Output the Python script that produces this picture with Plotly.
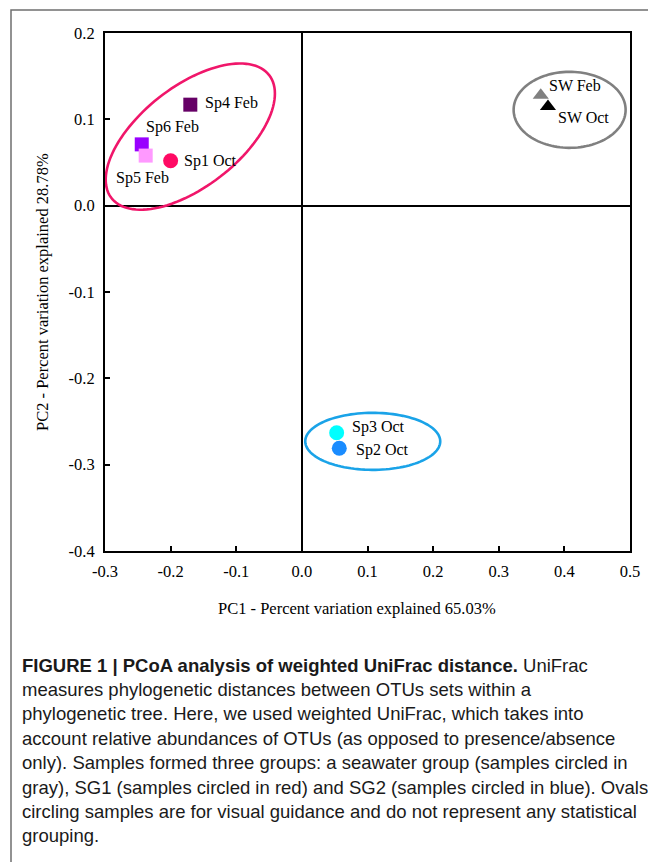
import numpy as np
import plotly.graph_objects as go

# ---------------- data ----------------
names = ["Sp4 Feb", "Sp6 Feb", "Sp5 Feb", "Sp1 Oct", "SW Feb", "SW Oct", "Sp3 Oct", "Sp2 Oct"]
pc1 = [-0.170, -0.244, -0.238, -0.200, 0.364, 0.375, 0.053, 0.057]
pc2 = [0.117, 0.071, 0.058, 0.052, 0.128, 0.115, -0.263, -0.281]
symbols = ["square", "square", "square", "circle", "triangle-up", "triangle-up", "circle", "circle"]
colors = ["#660066", "#9900ff", "#ff99ff", "#ff0a64", "#808080", "#000000", "#00ffff", "#1a8cff"]
sizes = [14, 14, 14, 15, 14, 14, 15, 15]

# label offsets (pixels) and anchors
lab_dx = [13, 31, -3, 11, 6, 8, 13, 15]
lab_dy = [2, 17, -22, 0, 10, -11, 6, -2]
lab_anchor = ["left", "center", "center", "left", "left", "left", "left", "left"]

# group ovals (centre in data units, semi-axes in px, rotation deg)
oval_cx = [-0.170, 0.408, 0.108]
oval_cy = [0.0800, 0.111, -0.273]
oval_a = [100, 56, 67.5]
oval_b = [50, 38, 28.5]
oval_rot = [38, 0, 0]
oval_color = ["#f0166a", "#808080", "#1aa3e8"]

x_ticks = [-0.3, -0.2, -0.1, 0.0, 0.1, 0.2, 0.3, 0.4, 0.5]
x_ticktext = ["-0.3", "-0.2", "-0.1", "0.0", "0.1", "0.2", "0.3", "0.4", "0.5"]
y_ticks = [-0.4, -0.3, -0.2, -0.1, 0.0, 0.1, 0.2]
y_ticktext = ["-0.4", "-0.3", "-0.2", "-0.1", "0.0", "0.1", "0.2"]

x_title = "PC1 - Percent variation explained 65.03%"
y_title = "PC2 - Percent variation explained 28.78%"

caption_lines = [
    "<b>FIGURE 1 | PCoA analysis of weighted UniFrac distance.</b> UniFrac",
    "measures phylogenetic distances between OTUs sets within a",
    "phylogenetic tree. Here, we used weighted UniFrac, which takes into",
    "account relative abundances of OTUs (as opposed to presence/absence",
    "only). Samples formed three groups: a seawater group (samples circled in",
    "gray), SG1 (samples circled in red) and SG2 (samples circled in blue). Ovals",
    "circling samples are for visual guidance and do not represent any statistical",
    "grouping.",
]

# ---------------- layout geometry ----------------
W, H = 656, 862
OFF = 8  # page body margin
ML, MT = 105 - OFF, 33 - OFF
MR = W - (630 - OFF)
MB = H - (551 - OFF)
XR = [-0.3, 0.5]
YR = [-0.4, 0.2]
pw = W - ML - MR
ph = H - MT - MB
sx = pw / (XR[1] - XR[0])
sy = ph / (YR[1] - YR[0])


def px_to_paper_x(px):
    return (px - OFF - ML) / pw


def px_to_paper_y(py):
    return (H - MB - (py - OFF)) / ph


SERIF = "Liberation Serif, Times New Roman, serif"
SANS = "Liberation Sans, Arial, sans-serif"

fig = go.Figure()

shapes = []
t = np.linspace(0, 2 * np.pi, 120)
for cx, cy, a, b, r, c in zip(oval_cx, oval_cy, oval_a, oval_b, oval_rot, oval_color):
    th = np.deg2rad(r)
    dx = a * np.cos(t) * np.cos(th) - b * np.sin(t) * np.sin(th)
    dy = a * np.cos(t) * np.sin(th) + b * np.sin(t) * np.cos(th)
    xs = cx + dx / sx
    ys = cy + dy / sy
    path = "M " + " L ".join(f"{x:.5f},{y:.5f}" for x, y in zip(xs, ys)) + " Z"
    shapes.append(dict(type="path", path=path, xref="x", yref="y",
                       line=dict(color=c, width=2.6), layer="above"))

# outer frame (left/top visible)
shapes.append(dict(type="rect", xref="paper", yref="paper",
                   x0=px_to_paper_x(11), x1=px_to_paper_x(720),
                   y0=px_to_paper_y(920), y1=px_to_paper_y(10),
                   line=dict(color="#6f6f6f", width=1.5), layer="below"))

for i in range(len(names)):
    fig.add_trace(go.Scatter(
        x=[pc1[i]], y=[pc2[i]], mode="markers", name=names[i],
        marker=dict(symbol=symbols[i], size=sizes[i], color=colors[i],
                    line=dict(width=0)),
        showlegend=False, cliponaxis=False))

annotations = []
for i in range(len(names)):
    annotations.append(dict(x=pc1[i], y=pc2[i], xref="x", yref="y", text=names[i],
                            showarrow=False, xanchor=lab_anchor[i], yanchor="middle",
                            xshift=lab_dx[i], yshift=lab_dy[i],
                            font=dict(family=SERIF, size=16, color="#000")))

annotations.append(dict(x=px_to_paper_x(357), y=px_to_paper_y(608), xref="paper", yref="paper",
                        text=x_title, showarrow=False, xanchor="center", yanchor="middle",
                        font=dict(family=SERIF, size=16.5, color="#000")))
annotations.append(dict(x=px_to_paper_x(42), y=px_to_paper_y(292), xref="paper", yref="paper",
                        text=y_title, showarrow=False, xanchor="center", yanchor="middle",
                        textangle=-90, font=dict(family=SERIF, size=16.5, color="#000")))

cap_y0 = 665
cap_dy = 24.4
for k, line in enumerate(caption_lines):
    annotations.append(dict(x=px_to_paper_x(20), y=px_to_paper_y(cap_y0 + k * cap_dy),
                            xref="paper", yref="paper", text=line, showarrow=False,
                            xanchor="left", yanchor="middle",
                            font=dict(family=SANS, size=18.5, color="#1a1a1a")))

axis_common = dict(showline=True, linecolor="black", linewidth=2, mirror=True,
                   zeroline=True, zerolinecolor="black", zerolinewidth=2,
                   showgrid=False, ticks="inside", ticklen=5, tickwidth=2, tickcolor="black",
                   tickfont=dict(family=SERIF, size=16.5, color="#000"))

fig.update_layout(
    width=W, height=H,
    margin=dict(l=ML, r=MR, t=MT, b=MB),
    paper_bgcolor="white", plot_bgcolor="white",
    xaxis=dict(range=XR, tickvals=x_ticks, ticktext=x_ticktext, ticklabelstandoff=4, **axis_common),
    yaxis=dict(range=YR, tickvals=y_ticks, ticktext=y_ticktext, ticklabelstandoff=5, **axis_common),
    shapes=shapes,
    annotations=annotations,
)

fig.write_html("out.html")
